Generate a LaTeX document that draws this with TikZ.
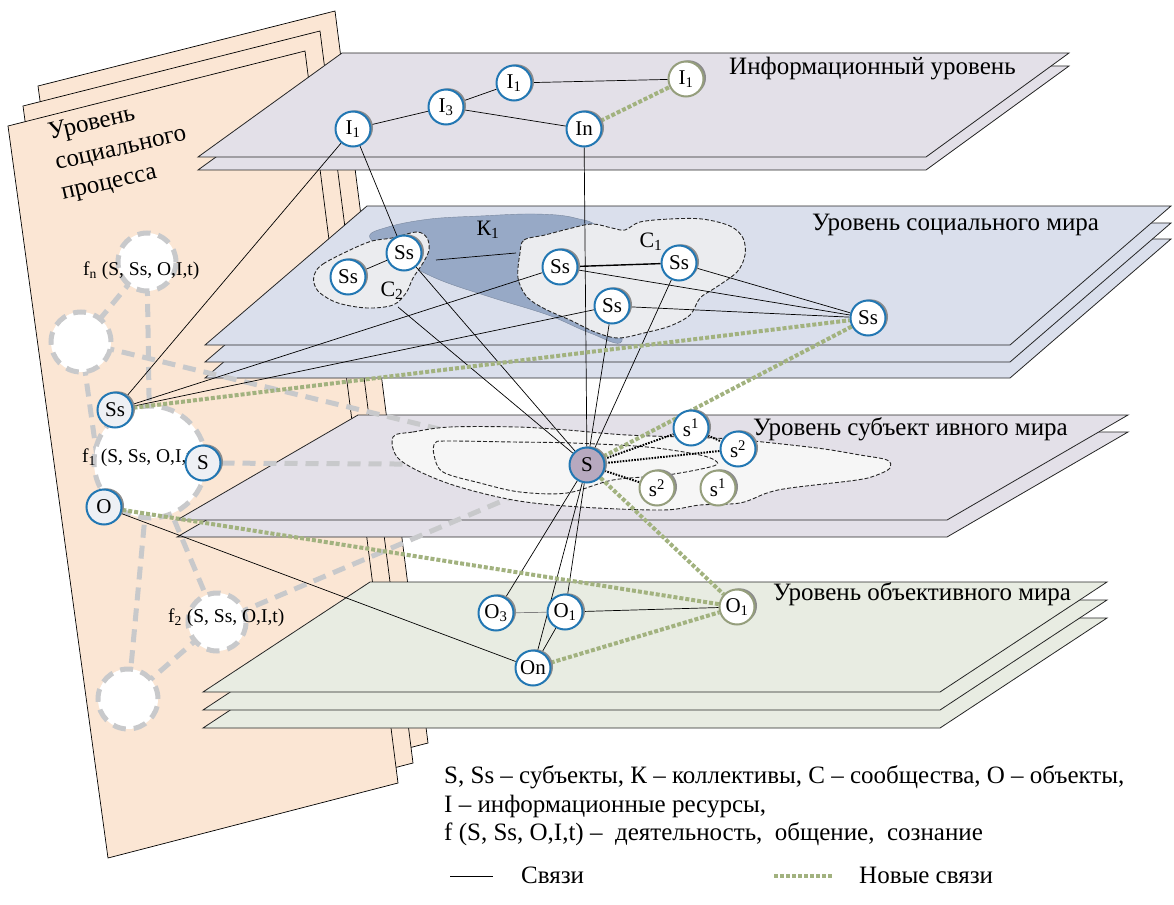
\documentclass[tikz,border=0pt]{standalone}
\usepackage{fontspec}
\setmainfont{Liberation Serif}
\usetikzlibrary{calc, positioning}
\usepackage{xcolor}

\definecolor{pagecol}{HTML}{FBE6D4}
\definecolor{infocol}{HTML}{E3E0E8}
\definecolor{socialcol}{HTML}{DADFEC}
\definecolor{subjcol}{HTML}{E3E0E8}
\definecolor{objcol}{HTML}{E8ECE2}
\definecolor{k1col}{HTML}{97A9C6}
\definecolor{ccol}{HTML}{EBECEF}
\definecolor{sblobcol}{HTML}{F6F6F6}
\definecolor{nodeblue}{HTML}{2277B3}
\definecolor{newolive}{HTML}{959E7C}
\definecolor{newgreen}{HTML}{A2B27F}
\definecolor{procgrey}{HTML}{C8C9CB}
\definecolor{sfill}{HTML}{B7A9BF}
\definecolor{pnodefill}{HTML}{EEF0F4}

\pgfdeclarelayer{back}
\pgfdeclarelayer{links}
\pgfsetlayers{back,links,main}

\begin{document}
\begin{tikzpicture}[x=1pt, y=-1pt,
  page/.style = {draw=black, line width=0.7pt, fill=pagecol},
  plane/.style = {draw=black!85, line width=0.8pt},
  blob/.style = {draw=black!85, line width=0.9pt, dash pattern=on 4pt off 2pt},
  nd/.style = {circle, draw=nodeblue, line width=2pt, fill=white, minimum size=35pt, inner sep=0pt,
    font=\fontsize{21}{21}\selectfont,
    preaction={fill=black!45, transform canvas={shift={(2.5pt,1.2pt)}}}},
  newnd/.style = {nd, draw=newolive},
  procc/.style = {circle, draw=procgrey, line width=5pt, dash pattern=on 13pt off 8pt, fill=white, inner sep=0pt},
  link/.style = {line width=0.7pt},
  newlink/.style = {draw=newgreen, line width=4pt, dash pattern=on 4pt off 2pt},
  sublink/.style = {line width=2pt, dash pattern=on 1.6pt off 1.3pt},
  proclink/.style = {draw=procgrey, line width=5pt, dash pattern=on 13pt off 8pt},
  lvl/.style = {anchor=base west, inner sep=0pt, font=\fontsize{25}{25}\selectfont},
  ptitle/.style = {anchor=base west, inner sep=0pt, rotate=13, font=\fontsize{25}{25}\selectfont},
  ftext/.style = {anchor=base west, inner sep=0pt, font=\fontsize{19.5}{19.5}\selectfont},
  ctext/.style = {inner sep=0pt, font=\fontsize{22}{22}\selectfont},
  legtext/.style = {anchor=base west, inner sep=0pt, font=\fontsize{25}{25}\selectfont}
]
  \useasboundingbox (0,0) rectangle (1174,904);

  % ======================================================
  % Nodes
  % ======================================================
  % information level
  \node[nd] (i1a) at (353,129) {I\textsubscript{1}};
  \node[nd] (i3) at (446,107) {I\textsubscript{3}};
  \node[nd] (i1b) at (514,83) {I\textsubscript{1}};
  \node[nd] (inn) at (584,129) {In};
  \node[newnd] (i1c) at (686,79) {I\textsubscript{1}};
  % social world
  \node[nd] (ss1) at (404,253) {Ss};
  \node[nd] (ss2) at (348,277) {Ss};
  \node[nd] (ss3) at (560,267) {Ss};
  \node[nd] (ss4) at (679,263) {Ss};
  \node[nd] (ss5) at (612,306) {Ss};
  \node[nd] (ss6) at (868,318) {Ss};
  % subjective world
  \node[nd, fill=sfill] (s) at (587,465) {S};
  \node[nd] (s1a) at (691,428) {s\textsuperscript{1}};
  \node[nd] (s2a) at (738,449) {s\textsuperscript{2}};
  \node[newnd] (s2b) at (657,488) {s\textsuperscript{2}};
  \node[newnd] (s1b) at (718,488) {s\textsuperscript{1}};
  % objective world
  \node[nd] (o3) at (496,613) {O\textsubscript{3}};
  \node[nd] (o1a) at (565,612) {O\textsubscript{1}};
  \node[newnd] (o1b) at (737,607) {O\textsubscript{1}};
  \node[nd] (on) at (533,668) {On};
  % social process
  \node[nd, fill=pnodefill] (pss) at (115,410) {Ss};
  \node[nd, fill=pnodefill] (ps) at (203,463) {S};
  \node[nd, fill=pnodefill] (po) at (104,507) {O};

  \begin{pgfonlayer}{back}
  % ======================================================
  % Social process level (pages on the left)
  % ======================================================
  \foreach \sh in {(30,-40), (15,-20), (0,0)}
    \draw[page, shift={\sh}] (8,126) -- (305,51) -- (398,783) -- (108,858) -- cycle;
  \node[ptitle] (ptitlea) at (50,140) {Уровень};
  \node[ptitle] (ptitleb) at (57,170) {социального};
  \node[ptitle] (ptitlec) at (63,200) {процесса};

  % ======================================================
  % Planes
  % ======================================================
  % information level
  \foreach \dy in {13,0}
    \draw[plane, fill=infocol, shift={(0,\dy)}] (198,157) -- (342,53) -- (1069,53) -- (926,157) -- cycle;
  % social world
  \foreach \dy in {33,17,0}
    \draw[plane, fill=socialcol, shift={(0,\dy)}] (205,345) -- (367,206) -- (1171,206) -- (1010,345) -- cycle;
  % subjective world
  \foreach \dy in {17,0}
    \draw[plane, fill=subjcol, shift={(0,\dy)}] (177,520) -- (358,415) -- (1128,415) -- (947,520) -- cycle;
  % objective world
  \foreach \dy in {36,18,0}
    \draw[plane, fill=objcol, shift={(0,\dy)}] (203,692) -- (370,582) -- (1107,582) -- (940,692) -- cycle;

  \node[lvl] (infolbl) at (729,75) {Информационный уровень};
  \node[lvl] (soclbl) at (812,230) {Уровень социального мира};
  \node[lvl] (subjlbl) at (753,435) {Уровень субъект ивного мира};
  \node[lvl] (objlbl) at (773,600) {Уровень объективного мира};

  % ======================================================
  % Activity circles f(S, Ss, O,I,t)
  % ======================================================
  \coordinate (fnc) at (147,262);
  \coordinate (emptyc) at (81,342);
  \coordinate (f1c) at (150,462);
  \coordinate (f2c) at (217,622);
  \coordinate (botc) at (128,699);

  \draw[proclink] (fnc) -- (f1c);
  \draw[proclink] (fnc) -- (emptyc);
  \draw[proclink] (emptyc) -- (po);
  \draw[proclink] (emptyc) -- (s);
  \draw[proclink] (f1c) -- (botc);
  \draw[proclink] (f1c) -- (f2c);
  \draw[proclink] (f2c) -- (botc);
  \draw[proclink] (f2c) -- (s);
  \draw[proclink] (ps) -- (s);

  \node[procc, minimum size=58pt] (fncirc) at (fnc) {};
  \node[procc, minimum size=60pt] (emptycirc) at (emptyc) {};
  \node[procc, minimum size=112pt] (f1circ) at (f1c) {};
  \node[procc, minimum size=58pt] (f2circ) at (f2c) {};
  \node[procc, minimum size=60pt] (botcirc) at (botc) {};

  \node[ftext] (fnlbl) at (83,275) {f\textsubscript{n} (S, Ss, O,I,t)};
  \node[ftext] (f1lbl) at (82,462) {f\textsubscript{1} (S, Ss, O,I,t)};
  \node[ftext] (f2lbl) at (168,622) {f\textsubscript{2} (S, Ss, O,I,t)};

  % ======================================================
  % Collectives and communities
  % ======================================================
  \draw[draw=k1col!80!black, line width=0.4pt, fill=k1col] plot[smooth cycle, tension=0.6] coordinates {
    (370,238) (388,227) (430,219) (480,216) (535,214) (575,218) (600,232)
    (605,290) (622,341) (590,333) (548,315) (490,297) (440,280) (405,262)};
  \draw[blob, fill=ccol] plot[smooth cycle, tension=0.55] coordinates {
    (520,253) (524,240) (545,235) (568,229) (592,224) (612,228) (625,230) (640,222)
    (670,219) (702,219) (730,226) (743,238) (745,255) (737,272) (715,288) (700,298)
    (690,315) (670,326) (644,333) (618,338) (595,332) (570,320) (545,309) (527,297) (518,278)};
  \draw[blob, fill=ccol] plot[smooth cycle, tension=0.55] coordinates {
    (315,273) (323,264) (350,250) (372,241) (392,238) (417,232) (427,238) (429,250)
    (423,263) (413,278) (406,293) (393,305) (367,308) (338,303) (320,293) (314,283)};
  \node[ctext] (k1lbl) at (488,230) {К\textsubscript{1}};
  \node[ctext] (c1lbl) at (651,242) {С\textsubscript{1}};
  \node[ctext] (c2lbl) at (392,291) {С\textsubscript{2}};

  % subjective world areas
  \draw[blob, fill=sblobcol] plot[smooth cycle, tension=0.55] coordinates {
    (393,437) (413,432) (450,427) (517,427) (567,430) (627,435) (713,438) (743,440)
    (817,448) (860,455) (887,460) (890,468) (877,475) (857,480) (790,488) (767,493)
    (740,503) (700,505) (663,510) (580,507) (513,500) (447,483) (400,460)};
  \draw[blob, fill=sblobcol] plot[smooth cycle, tension=0.55] coordinates {
    (435,443) (447,441) (513,442) (573,443) (647,447) (700,455) (717,462) (710,467)
    (667,475) (613,480) (567,493) (520,492) (480,483) (443,472) (434,455)};
  \end{pgfonlayer}

  % ======================================================
  % Links
  % ======================================================
  \begin{pgfonlayer}{links}
  \coordinate (c2a) at (436,260);
  \coordinate (c1a) at (516,253);
  \coordinate (c2b) at (398,307);

  \draw[link] (i1a) -- (i3);
  \draw[link] (i3) -- (i1b);
  \draw[link] (i1b) -- (i1c);
  \draw[link] (i3) -- (inn);
  \draw[link] (i1a) -- (ss1);
  \draw[link] (pss) -- (i1a);
  \draw[link] (inn) -- (s);
  \draw[link] (ss2) -- (ss1);
  \draw[link] (c2a) -- (c1a);
  \draw[line width=1.4pt] (ss3) -- (ss4);
  \draw[link] (ss3) -- (ss6);
  \draw[link] (ss4) -- (ss6);
  \draw[link] (ss5) -- (ss6);
  \draw[link] (pss) -- (ss3);
  \draw[link] (pss) -- (ss5);
  \draw[link] (c2b) -- (s);
  \draw[link] (ss1) -- (s);
  \draw[link] (ss5) -- (s);
  \draw[link] (ss4) -- (s);
  \draw[link] (s) -- (o3);
  \draw[link] (s) -- (on);
  \draw[link] (s) -- (o1a);
  \draw[link, draw=black!50] (o3) -- (o1a);
  \draw[link] (o1a) -- (o1b);
  \draw[link] (o1a) -- (on);
  \draw[link] (po) -- (on);

  \draw[sublink] (s) -- (s1a);
  \draw[sublink] (s) -- (s2a);
  \draw[sublink] (s1a) -- (s2a);
  \draw[sublink] (s) -- (s2b);

  % new links
  \draw[newlink] (inn) -- (i1c);
  \draw[newlink] (pss) -- (ss6);
  \draw[newlink] (ss6) -- (s);
  \draw[newlink] (s) -- (o1b);
  \draw[newlink] (po) -- (o1b);
  \draw[newlink] (on) -- (o1b);
  \end{pgfonlayer}

  % ======================================================
  % Legend
  % ======================================================
  \node[legtext] (lega) at (444,783) {S, Ss – субъекты, К – коллективы, С – сообщества, О – объекты,};
  \node[legtext] (legb) at (444,812) {I – информационные ресурсы,};
  \node[legtext] (legc) at (444,840) {f (S, Ss, O,I,t) –\ \ деятельность,\ \ общение,\ \ сознание};
  \coordinate (keya) at (450,876);
  \coordinate (keyb) at (493,876);
  \coordinate (keyc) at (774,876);
  \coordinate (keyd) at (833,876);
  \draw[link] (keya) -- (keyb);
  \node[legtext] (keylink) at (521,883) {Связи};
  \draw[newlink] (keyc) -- (keyd);
  \node[legtext] (keynew) at (859,883) {Новые связи};

\end{tikzpicture}
\end{document}
